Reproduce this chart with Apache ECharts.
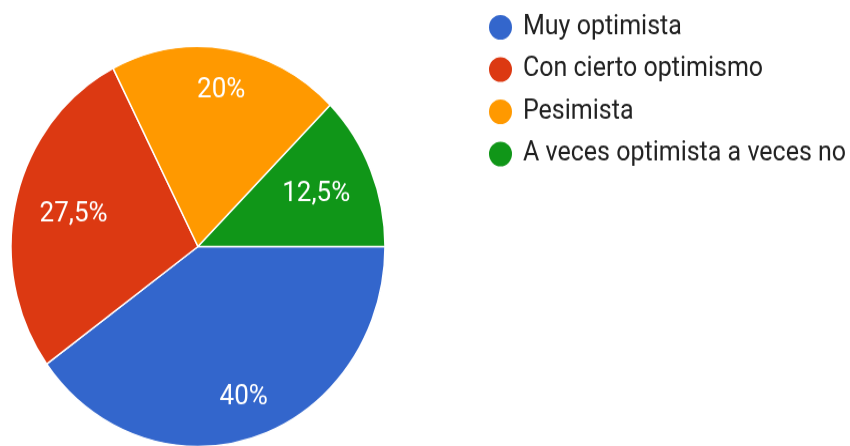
<!DOCTYPE html>
<html>
<head>
<meta charset="utf-8">
<script src="https://cdn.jsdelivr.net/npm/echarts@6/dist/echarts.min.js"></script>
<style>
  html, body { margin: 0; padding: 0; background: #fff; width: 850px; height: 446px; }
  /* the reference is slightly stretched vertically */
  #wrap { width: 850px; height: 417px; transform: scaleY(1.0695); transform-origin: 0 0; }
  #chart { width: 850px; height: 417px; }
</style>
</head>
<body>
<div id="wrap"><div id="chart"></div></div>
<script>
const categories = ['Muy optimista', 'Con cierto optimismo', 'Pesimista', 'A veces optimista a veces no']
const values = [40, 27.5, 20, 12.5]
const colors = ['#3366cc', '#dc3912', '#ff9900', '#109618']
// labels of these slices sit further out
const farLabels = ['Muy optimista', 'Pesimista']

const center = [198, 230.5]
const R = 187
const font = 'Roboto, Arial, sans-serif'

const chart = echarts.init(document.getElementById('chart'))

function fmt(p) {
  return String(p.value).replace('.', ',') + '%'
}

function labelRing(inner, far) {
  return {
    type: 'pie',
    silent: true,
    center,
    radius: [inner, R],
    startAngle: 0,
    clockwise: true,
    avoidLabelOverlap: false,
    itemStyle: { color: 'rgba(0,0,0,0)', borderWidth: 0 },
    emphasis: { disabled: true },
    labelLine: { show: false },
    data: categories.map((name, i) => ({
      name,
      value: values[i],
      label: {
        show: farLabels.includes(name) === far,
        position: 'inside',
        color: '#fff',
        fontFamily: font,
        fontSize: 26,
        formatter: fmt
      }
    }))
  }
}

chart.setOption({
  animation: false,
  color: colors,
  legend: {
    orient: 'vertical',
    left: 482,
    top: 7,
    icon: 'circle',
    itemWidth: 25,
    itemHeight: 25,
    itemGap: 12.5,
    selectedMode: false,
    textStyle: { color: '#212121', fontFamily: font, fontSize: 25, lineHeight: 25, padding: [0, 0, 0, 5] },
    data: categories.map((name, i) => ({ name, itemStyle: { color: colors[i] } }))
  },
  series: [
    {
      type: 'pie',
      center,
      radius: [0, R],
      startAngle: 0,
      clockwise: true,
      label: { show: false },
      labelLine: { show: false },
      emphasis: { disabled: true },
      itemStyle: { borderColor: '#fff', borderWidth: 1.5 },
      data: categories.map((name, i) => ({ name, value: values[i] }))
    },
    labelRing(2 * 145 - R, true),
    labelRing(2 * 125 - R, false)
  ]
})
</script>
</body>
</html>
